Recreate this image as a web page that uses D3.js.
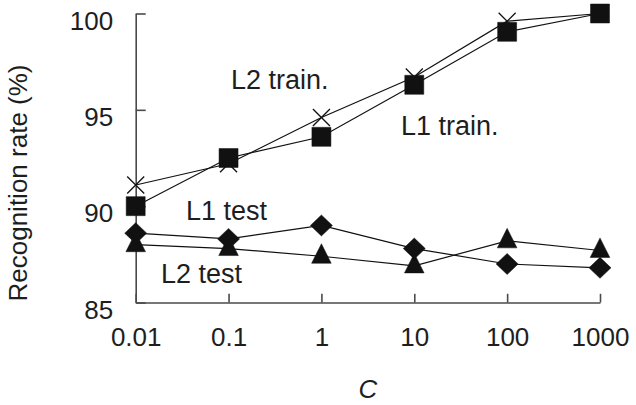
<!DOCTYPE html>
<html>
<head>
<meta charset="utf-8">
<script src="https://cdn.jsdelivr.net/npm/d3@7/dist/d3.min.js"></script>
<style>
  html, body { margin: 0; padding: 0; background: #fff; }
  svg { display: block; font-family: "Liberation Sans", Arial, Helvetica, sans-serif; }
</style>
</head>
<body>
<svg id="chart" width="636" height="405"></svg>
<script>
// Regularisation parameter C and the tick labels shown under the axis
const C_VALUES = [0.01, 0.1, 1, 10, 100, 1000];
const C_LABELS = ["0.01", "0.1", "1", "10", "100", "1000"];
const RATE_TICKS = [85, 90, 95, 100];

// Recognition rate (%) for each C
const L1_TRAIN = [90.0, 92.5, 93.6, 96.3, 99.05, 100];
const L2_TRAIN = [91.1, 92.2, 94.6, 96.7, 99.6, 100];
const L1_TEST  = [88.6, 88.3, 89.0, 87.8, 87.0, 86.8];
const L2_TEST  = [88.0, 87.8, 87.4, 86.9, 88.2, 87.7];

// Curve names written next to the curves, placed in data units (C, rate)
const CURVE_NAMES = ["L2 train.", "L1 train.", "L1 test", "L2 test"];
const NAME_C      = [0.106, 7.19, 0.0348, 0.0187];
const NAME_RATE   = [96.08, 93.69, 89.28, 86.01];

const svg = d3.select("#chart");
const ink = "#111";
const textInk = "#1e1e1e";
const axisInk = "#4a4a4a";

const x = d3.scaleLog().domain([0.01, 1000]).range([135.7, 600]);
const y = d3.scaleLinear().domain([85, 100]).range([302.5, 13.5]);

// Axes: ticks point into the plot
const yAxis = svg.append("g")
  .attr("transform", `translate(${x(0.01)},0)`)
  .call(d3.axisLeft(y).tickValues(RATE_TICKS).tickFormat(d3.format("d"))
    .tickSizeInner(-10).tickSizeOuter(0).tickPadding(22.5));
yAxis.selectAll("text").attr("dy", "15.5px");

const xAxis = svg.append("g")
  .attr("transform", `translate(0,${y(85)})`)
  .call(d3.axisBottom(x).tickValues(C_VALUES).tickFormat((d, i) => C_LABELS[i])
    .tickSizeInner(-8.7).tickSizeOuter(0).tickPadding(25.5));

svg.selectAll(".domain, .tick line").attr("stroke", axisInk).attr("stroke-width", 1.6);
svg.selectAll(".tick text").attr("fill", textInk).style("font-size", "26px")
  .style("font-family", "'Liberation Sans', Arial, Helvetica, sans-serif");

// Axis titles
svg.append("text")
  .attr("transform", "translate(27,183) rotate(-90)")
  .attr("text-anchor", "middle").attr("fill", textInk).style("font-size", "26px")
  .text("Recognition rate (%)");
svg.append("text")
  .attr("x", (x(0.01) + x(1000)) / 2).attr("y", 398)
  .attr("text-anchor", "middle").attr("fill", textInk)
  .style("font-size", "26px").style("font-style", "italic")
  .text("C");

// Series lines
const series = [
  { values: L2_TRAIN, marker: "cross" },
  { values: L1_TRAIN, marker: "square" },
  { values: L2_TEST,  marker: "triangle" },
  { values: L1_TEST,  marker: "diamond" }
];
const line = d3.line().x((d, i) => x(C_VALUES[i])).y(d => y(d));
svg.append("g").selectAll("path").data(series).join("path")
  .attr("d", s => line(s.values))
  .attr("fill", "none").attr("stroke", ink).attr("stroke-width", 1.2);

// Marker shapes, centred on the data point
const shapes = {
  cross: "M-8.5,-8.5L8.5,8.5M-8.5,8.5L8.5,-8.5",
  square: "M-9.5,-9.5H9.5V9.5H-9.5Z",
  triangle: "M0,-12.5L9.8,7L-9.8,7Z",
  diamond: "M0,-10.5L11,0L0,10.5L-11,0Z"
};
series.forEach(s => {
  svg.append("g").selectAll("path").data(s.values).join("path")
    .attr("transform", (d, i) => `translate(${x(C_VALUES[i])},${y(d)})`)
    .attr("d", shapes[s.marker])
    .attr("fill", s.marker === "cross" ? "none" : ink)
    .attr("stroke", ink)
    .attr("stroke-width", s.marker === "cross" ? 1.3 : 0.5);
});

// Curve names
svg.append("g").selectAll("text").data(CURVE_NAMES).join("text")
  .attr("x", (d, i) => x(NAME_C[i]))
  .attr("y", (d, i) => y(NAME_RATE[i]))
  .attr("fill", textInk).style("font-size", "27px")
  .text(d => d);
</script>
</body>
</html>
